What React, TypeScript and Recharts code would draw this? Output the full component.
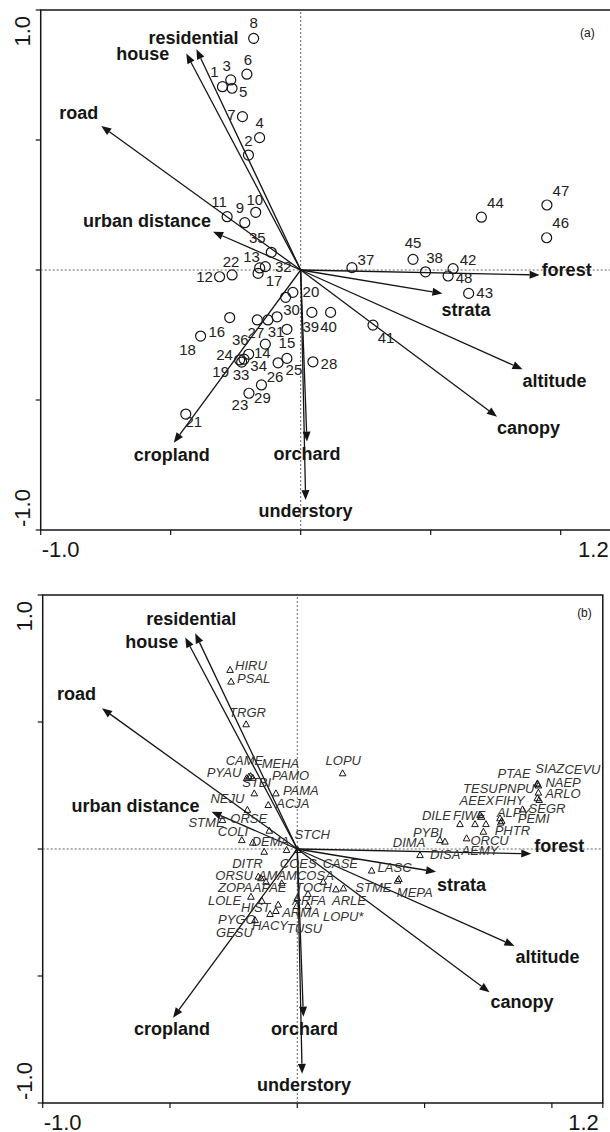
import React from 'react';
import { ScatterChart, Scatter, XAxis, YAxis, ReferenceLine, ReferenceArea, Label } from 'recharts';

const FONT = '"Liberation Sans", Arial, Helvetica, sans-serif';

// ---------- environmental variables (biplot arrows) ----------
const envNames = ['residential', 'house', 'road', 'urban distance', 'forest', 'strata', 'altitude', 'canopy', 'orchard', 'understory', 'cropland'];
const envX = [-0.401, -0.44, -0.767, -0.337, 0.919, 0.545, 0.853, 0.755, 0.024, 0.019, -0.488];
const envY = [0.849, 0.833, 0.554, 0.147, -0.019, -0.09, -0.382, -0.564, -0.66, -0.885, -0.664];

// ---------- sites (panel a) ----------
const siteIds = ['1', '2', '3', '4', '5', '6', '7', '8', '9', '10', '11', '12', '13', '14', '15', '16', '17', '18', '19', '20', '21', '22', '23', '24', '25', '26', '27', '28', '29', '30', '31', '32', '33', '34', '35', '36', '37', '38', '39', '40', '41', '42', '43', '44', '45', '46', '47', '48'];
const siteX = [-0.301, -0.201, -0.269, -0.158, -0.264, -0.207, -0.224, -0.181, -0.215, -0.173, -0.283, -0.312, -0.158, -0.136, -0.053, -0.273, -0.164, -0.385, -0.227, -0.03, -0.442, -0.264, -0.199, -0.235, -0.053, -0.087, -0.126, 0.047, -0.151, -0.058, -0.091, -0.136, -0.218, -0.2, -0.113, -0.167, 0.197, 0.48, 0.043, 0.115, 0.278, 0.586, 0.646, 0.695, 0.432, 0.946, 0.947, 0.567];
const siteY = [0.705, 0.442, 0.731, 0.509, 0.699, 0.753, 0.59, 0.891, 0.182, 0.222, 0.205, -0.026, 0.008, -0.285, -0.228, -0.183, -0.013, -0.254, -0.354, -0.086, -0.554, -0.019, -0.474, -0.346, -0.34, -0.357, -0.192, -0.353, -0.442, -0.105, -0.18, 0.013, -0.343, -0.324, 0.068, -0.192, 0.009, -0.007, -0.163, -0.163, -0.212, 0.005, -0.09, 0.203, 0.041, 0.124, 0.25, -0.023];

// ---------- species (panel b) ----------
const speciesNames = ['HIRU', 'PSAL', 'TRGR', 'CAME', 'MEHA', 'PYAU', 'PAMO', 'STBI', 'PAMA', 'NEJU', 'ACJA', 'LOPU', 'ORSE', 'STME', 'COLI', 'DEMA', 'STCH', 'DITR', 'COES', 'CASE', 'LASC', 'MEPA', 'STME', 'ARLE', 'TOCH', 'COSA', 'ARFA', 'ORSU', 'AMAM', 'ZOPA', 'APAE', 'LOLE', 'HIST', 'ARMA', 'PYGO', 'HACY', 'TUSU', 'GESU', 'LOPU*', 'SIAZ', 'CEVU', 'PTAE', 'NAEP', 'PNPU', 'ARLO', 'SEGR', 'TESU', 'AEEX', 'FIHY', 'ALPY', 'PEMI', 'PHTR', 'DILE', 'FIWE', 'ORCU', 'AEMY', 'PYBI', 'DIMA', 'DISA'];
const speciesX = [-0.264, -0.26, -0.201, -0.183, -0.175, -0.199, -0.19, -0.169, -0.084, -0.196, -0.114, 0.178, -0.11, -0.294, -0.218, -0.175, -0.042, -0.13, 0.002, 0.292, 0.394, 0.399, 0.181, 0.152, 0.102, 0.042, 0.0, -0.153, -0.143, -0.123, -0.061, -0.182, -0.139, -0.075, -0.107, -0.084, -0.002, -0.166, 0.042, 0.943, 0.947, 0.944, 0.947, 0.943, 0.95, 0.885, 0.718, 0.724, 0.741, 0.796, 0.803, 0.799, 0.639, 0.698, 0.731, 0.665, 0.58, 0.56, 0.482];
const speciesY = [0.705, 0.659, 0.491, 0.287, 0.28, 0.279, 0.285, 0.219, 0.219, 0.154, 0.173, 0.298, 0.072, 0.114, 0.035, 0.025, -0.004, -0.011, -0.004, -0.085, -0.125, -0.118, -0.155, -0.159, -0.129, -0.177, -0.193, -0.109, -0.115, -0.129, -0.135, -0.188, -0.204, -0.219, -0.256, -0.244, -0.224, -0.28, -0.224, 0.258, 0.25, 0.255, 0.222, 0.2, 0.193, 0.156, 0.134, 0.127, 0.098, 0.121, 0.111, 0.104, 0.098, 0.098, 0.068, 0.042, 0.029, 0.035, -0.024];

// ---------- axes ----------
const xTickValues = [-1, -0.5, 0, 0.5, 1, 1.2];
const xTickLabels = ['-1.0', '', '', '', '', '1.2'];
const yTickValues = [-1, -0.5, 0, 0.5, 1];
const yTickLabels = ['-1.0', '', '', '', '1.0'];
const panelTags = ['(a)', '(b)'];

// ---------- layout (pixel offsets for labels) ----------
type LabelPos = { anchor: 'start' | 'middle' | 'end'; dx: number; dy: number };
const envLabelLayoutA: LabelPos[] = [
  { anchor: 'middle', dx: -3, dy: -5 },
  { anchor: 'end', dx: -17, dy: 7 },
  { anchor: 'end', dx: -3, dy: -7 },
  { anchor: 'end', dx: -2, dy: -5 },
  { anchor: 'start', dx: 2, dy: 1 },
  { anchor: 'start', dx: -1, dy: 23 },
  { anchor: 'start', dx: 0, dy: 18 },
  { anchor: 'start', dx: 0, dy: 17 },
  { anchor: 'middle', dx: 0, dy: 18 },
  { anchor: 'middle', dx: 0, dy: 17 },
  { anchor: 'middle', dx: -2, dy: 18 },
];
const envLabelLayoutB: LabelPos[] = [
  { anchor: 'middle', dx: -4, dy: -8 },
  { anchor: 'end', dx: -7, dy: 11 },
  { anchor: 'end', dx: -6, dy: -8 },
  { anchor: 'end', dx: -12, dy: 0 },
  { anchor: 'start', dx: 3, dy: -2 },
  { anchor: 'start', dx: 1, dy: 19 },
  { anchor: 'start', dx: 1, dy: 17 },
  { anchor: 'start', dx: 1, dy: 16 },
  { anchor: 'middle', dx: 1, dy: 18 },
  { anchor: 'middle', dx: 2, dy: 17 },
  { anchor: 'middle', dx: -1, dy: 17 },
];
const siteLabelOffsets = [
  [-8, -10], [0, -9], [-4, -9], [0, -10], [11, 9], [1, -9], [-11, 3], [0, -10], [-5, -10], [-1, -7],
  [-8, -10], [-15, 5], [-8, -6], [-3, 14], [0, 19], [-13, 19], [16, 13], [-13, 19], [-21, 15], [18, 5],
  [8, 13], [-1, -8], [-9, 17], [-15, 0], [7, 17], [-3, 19], [-12, 18], [16, 7], [1, 18], [6, 18],
  [-1, 20], [18, 5], [-3, 21], [10, 17], [-14, -9], [-17, 25], [14, -3], [9, -9], [-1, 20], [-2, 20],
  [13, 18], [15, -4], [16, 5], [14, -9], [0, -11], [14, -10], [14, -9], [16, 7],
];
const speciesLabelOffsets = [
  [5, 0], [6, 1], [-17, -7], [-25, -11], [9, -10], [-40, -1], [23, 3], [-12, -6], [7, 2], [-37, -7],
  [8, 3], [-17, -8], [-39, -8], [-34, 7], [-24, -4], [-1, 3], [8, -11], [-32, 16], [-18, 18], [-49, -3],
  [-20, -9], [-2, 18], [12, 4], [-4, 16], [-28, 10], [-11, -14], [-5, 7], [-43, 3], [-3, 2], [-48, 10],
  [-29, 9], [-43, 8], [-21, 11], [4, 12], [-52, 10], [-24, 19], [-10, 27], [-39, 17], [15, 15],
  [-2, -10], [26, -12], [-40, -6], [7, -6], [-39, -5], [6, -2], [6, 4], [-17, -22], [-22, -12], [9, -19],
  [-3, -1], [16, 2], [-6, 12], [-38, -4], [-22, -4], [-13, 13], [-5, 17], [-32, -5], [-47, 7], [10, 4],
];

const siteData = siteIds.map((id, i) => ({ id, i, x: siteX[i], y: siteY[i] }));
const speciesData = speciesNames.map((name, i) => ({ name, i, x: speciesX[i], y: speciesY[i] }));

const INK = '#151515';

const makeArrowShape = (label: string, lp: LabelPos) => (p: any) => {
  const x1 = Number(p.x1), y1 = Number(p.y1), x2 = Number(p.x2), y2 = Number(p.y2);
  const dx = x2 - x1, dy = y2 - y1;
  const len = Math.hypot(dx, dy) || 1;
  const ux = dx / len, uy = dy / len;
  const L = 10, W = 4;
  const bx = x2 - ux * L, by = y2 - uy * L;
  const pts = `${x2},${y2} ${bx - uy * W},${by + ux * W} ${bx + uy * W},${by - ux * W}`;
  return (
    <g>
      <line x1={x1} y1={y1} x2={bx} y2={by} stroke={INK} strokeWidth={1.3} />
      <polygon points={pts} fill={INK} />
      <text x={x2 + lp.dx} y={y2 + lp.dy} textAnchor={lp.anchor} fontFamily={FONT} fontWeight="bold" fontSize={18} fill={INK}>
        {label}
      </text>
    </g>
  );
};

const XTick = (p: any) => {
  const i = xTickValues.indexOf(p.payload.value);
  const label = xTickLabels[i];
  if (!label) return <g />;
  const first = i === 0;
  return (
    <text x={p.x + (first ? 1 : -4)} y={p.y + 22} textAnchor={first ? 'start' : 'end'} fontFamily={FONT} fontSize={22} fill={INK}>
      {label}
    </text>
  );
};

const YTick = (p: any) => {
  const i = yTickValues.indexOf(p.payload.value);
  const label = yTickLabels[i];
  if (!label) return <g />;
  const isTop = i === yTickValues.length - 1;
  const bx = p.x - 6;
  const by = isTop ? p.y + 6 : p.y - 3;
  return (
    <text x={bx} y={by} transform={`rotate(-90 ${bx} ${by})`} textAnchor={isTop ? 'end' : 'start'} fontFamily={FONT} fontSize={22} fill={INK}>
      {label}
    </text>
  );
};

const circleShape = (p: any) => {
  const i = p.payload.i;
  const [dx, dy] = siteLabelOffsets[i];
  return (
    <g>
      <circle cx={p.cx} cy={p.cy} r={5} fill="none" stroke={INK} strokeWidth={1.2} />
      <text x={p.cx + dx} y={p.cy + dy} textAnchor="middle" fontFamily={FONT} fontSize={15} fill="#222">
        {p.payload.id}
      </text>
    </g>
  );
};

const triangleShape = (p: any) => {
  const i = p.payload.i;
  const [dx, dy] = speciesLabelOffsets[i];
  const cx = p.cx, cy = p.cy;
  return (
    <g>
      <polygon points={`${cx},${cy - 3.5} ${cx - 3.3},${cy + 2.5} ${cx + 3.3},${cy + 2.5}`} fill="none" stroke={INK} strokeWidth={1} />
      <text x={cx + dx} y={cy + dy} textAnchor="start" fontFamily={FONT} fontStyle="italic" fontSize={13} fill="#333">
        {p.payload.name}
      </text>
    </g>
  );
};

type PanelProps = {
  which: 0 | 1;
  top: number;
  width: number;
  height: number;
  margin: { top: number; right: number; bottom: number; left: number };
  tagDx: number;
  tagDy: number;
};

const Panel = ({ which, top, width, height, margin, tagDx, tagDy }: PanelProps) => {
  const layout = which === 0 ? envLabelLayoutA : envLabelLayoutB;
  return (
    <div style={{ position: 'absolute', left: 0, top, width, height }}>
      <ScatterChart width={width} height={height} margin={margin}>
        <XAxis
          type="number"
          dataKey="x"
          domain={[-1, 1.2]}
          allowDataOverflow
          ticks={xTickValues}
          interval={0}
          height={30}
          tickSize={5}
          tickMargin={0}
          axisLine={false}
          tickLine={{ stroke: INK, strokeWidth: 1.2 }}
          tick={XTick}
        />
        <YAxis
          type="number"
          dataKey="y"
          domain={[-1, 1]}
          allowDataOverflow
          ticks={yTickValues}
          interval={0}
          width={40}
          tickSize={5}
          tickMargin={0}
          axisLine={false}
          tickLine={{ stroke: INK, strokeWidth: 1.2 }}
          tick={YTick}
        />
        <ReferenceArea
          x1={-1}
          x2={1.2}
          y1={-1}
          y2={1}
          fill="none"
          fillOpacity={0}
          stroke={INK}
          strokeWidth={1.5}
          label={
            <Label
              content={(lp: any) => {
                const vb = lp.viewBox || {};
                return (
                  <text x={vb.x + vb.width - tagDx} y={vb.y + tagDy} textAnchor="end" fontFamily={FONT} fontSize={12} fill={INK}>
                    {panelTags[which]}
                  </text>
                );
              }}
            />
          }
        />
        <ReferenceLine x={0} stroke="#666" strokeWidth={1} strokeDasharray="2 2" />
        <ReferenceLine y={0} stroke="#666" strokeWidth={1} strokeDasharray="2 2" />
        {envNames.map((name, i) => (
          <ReferenceLine
            key={name}
            segment={[
              { x: 0, y: 0 },
              { x: envX[i], y: envY[i] },
            ]}
            shape={makeArrowShape(name, layout[i])}
          />
        ))}
        {which === 0 ? (
          <Scatter data={siteData} shape={circleShape} isAnimationActive={false} />
        ) : (
          <Scatter data={speciesData} shape={triangleShape} isAnimationActive={false} />
        )}
      </ScatterChart>
    </div>
  );
}

export default function App() {
  return (
    <div style={{ position: 'absolute', left: 0, top: 0, width: 610, height: 1132, overflow: 'hidden', background: '#fff' }}>
      <Panel which={0} top={0} width={640} height={560} margin={{ top: 10, right: 27.3, bottom: 0, left: 0.7 }} tagDx={18} tagDy={27} />
      <Panel which={1} top={580} width={620} height={553} margin={{ top: 15, right: 17.2, bottom: 0, left: 2.7 }} tagDx={11} tagDy={22} />
    </div>
  );
}
